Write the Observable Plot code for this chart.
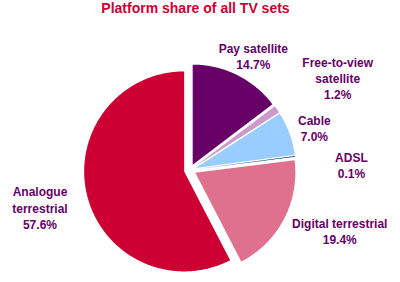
<!DOCTYPE html>
<html><head><meta charset="utf-8">
<script src="https://cdn.jsdelivr.net/npm/d3@7"></script>
<script src="https://cdn.jsdelivr.net/npm/@observablehq/plot@0.6"></script>
<style>body{margin:0;background:#fff} svg{display:block}</style>
</head><body><div id="chart"></div>
<script>
const title = "Platform share of all TV sets";
const categories = ["Pay satellite", "Free-to-view satellite", "Cable", "ADSL", "Digital terrestrial", "Analogue terrestrial"];
const labelNames = ["Pay satellite", "Free-to-view\nsatellite", "Cable", "ADSL", "Digital terrestrial", "Analogue\nterrestrial"];
const shares = [14.7, 1.2, 7.0, 0.1, 19.4, 57.6];
const colors = ["#660066", "#cc99cc", "#99ccff", "#003366", "#e0718e", "#cc0033"];

// layout (not data)
const explode = 0.06;
const labelRadius = [1.31, 1.74, 1.31, 1.61, 1.61, 1.55];
const labelTurn = [2.2, 2.7, 1.1, 5.3, -5.7, -0.1];

const total = d3.sum(shares);
let acc = 0;
const slices = categories.map((name, i) => {
  const a0 = acc / total * 2 * Math.PI;
  acc += shares[i];
  const a1 = acc / total * 2 * Math.PI;
  return {name, value: shares[i], a0, a1, mid: (a0 + a1) / 2, i};
});
const points = slices.flatMap(s => {
  const ox = explode * Math.sin(s.mid), oy = explode * Math.cos(s.mid);
  const n = Math.max(2, Math.ceil((s.a1 - s.a0) / (Math.PI / 360)));
  return d3.range(n + 1).map(k => {
    const a = s.a0 + (s.a1 - s.a0) * k / n;
    return {name: s.name, cx: ox, cy: oy, x: ox + Math.sin(a), y: oy + Math.cos(a)};
  });
});
const labels = slices.map(s => {
  const a = s.mid + labelTurn[s.i] * Math.PI / 180;
  const r = labelRadius[s.i];
  return {x: r * Math.sin(a), y: r * Math.cos(a), text: labelNames[s.i] + "\n" + s.value.toFixed(1) + "%"};
});

const chart = Plot.plot({
  width: 400, height: 282, margin: 0,
  x: {domain: [-1.9, 2.1], axis: null},
  y: {domain: [-1.12, 1.70], axis: null},
  color: {domain: categories, range: colors},
  style: {fontFamily: "'Liberation Sans', Arial, sans-serif", background: "#fff"},
  marks: [
    Plot.area(points, {x1: "cx", y1: "cy", x2: "x", y2: "y", z: "name", fill: "name", curve: "linear"}),
    Plot.text(labels, {x: "x", y: "y", text: "text", fontWeight: "bold", fontSize: 12, fill: "#660066", lineHeight: 1.37}),
    Plot.text([title], {frameAnchor: "top", text: d => d, dx: -5, dy: 3, fontSize: 14, fontWeight: "bold", fill: "#cc0033"})
  ]
});
document.getElementById("chart").append(chart);
</script>
</body></html>
